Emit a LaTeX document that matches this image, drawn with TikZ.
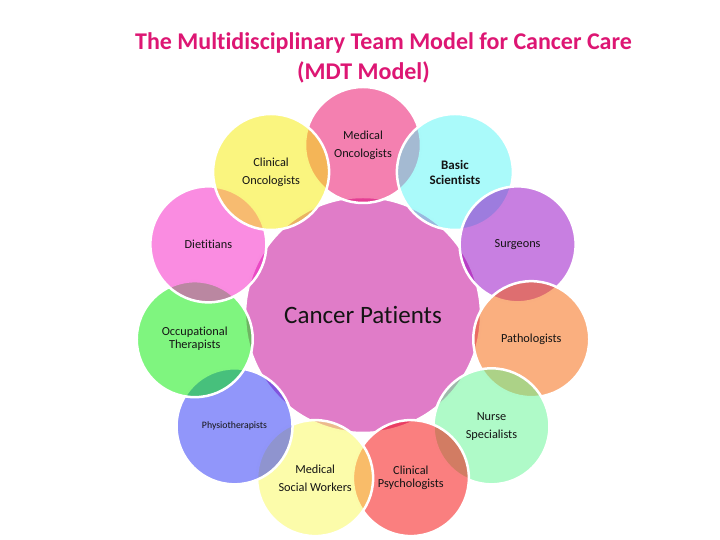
\documentclass[tikz,border=0pt]{standalone}
\usepackage{fontspec}
\setmainfont{Carlito}[Ligatures=NoCommon]
\usetikzlibrary{calc}
\definecolor{titlepink}{RGB}{221,22,115}
\definecolor{ctr}{RGB}{224,124,200}
\definecolor{cMO}{RGB}{233,1,97}
\definecolor{cBS}{RGB}{85,245,245}
\definecolor{cSU}{RGB}{145,0,195}
\definecolor{cPA}{RGB}{245,95,0}
\definecolor{cNS}{RGB}{95,245,145}
\definecolor{cCP}{RGB}{245,0,0}
\definecolor{cMS}{RGB}{249,249,85}
\definecolor{cPH}{RGB}{35,45,245}
\definecolor{cOT}{RGB}{0,235,0}
\definecolor{cDI}{RGB}{245,25,195}
\definecolor{cCO}{RGB}{245,235,0}
\definecolor{txt}{RGB}{20,20,20}
\begin{document}
\begin{tikzpicture}[x=1pt,y=1pt,
  hub/.style={circle, draw=white, line width=2.5pt, fill=ctr, minimum size=236pt,
    inner sep=0pt, text=txt, font=\fontsize{25}{29}\selectfont},
  petal/.style={circle, draw=white, line width=2.5pt, fill opacity=0.5,
    draw opacity=1, text opacity=1, text=txt, minimum size=116pt, inner sep=0pt,
    align=center, font=\fontsize{12.3}{18}\selectfont},
  tight/.style={font=\fontsize{12.3}{13}\selectfont},
  titletext/.style={text=titlepink, font=\fontsize{24}{28}\selectfont\bfseries, inner sep=0pt}
]
\useasboundingbox (0,0) rectangle (720,540);
\node[titletext] (t1) at (383.5,497) {The Multidisciplinary Team Model for Cancer Care};
\node[titletext] (t2) at (363.5,468) {(MDT Model)};
\coordinate (c) at (363,225);
\node[hub] (hub) at (c) {Cancer Patients};
\node[petal, fill=cMO] (mo) at ($(c)+(90:170)$) {Medical\\Oncologists};
\node[petal, fill=cBS, font=\fontsize{13}{15}\selectfont\bfseries] (bs) at ($(c)+(57.27:170)$) {Basic\\Scientists};
\node[petal, fill=cSU] (su) at ($(c)+(24.55:170)$) {Surgeons};
\node[petal, fill=cPA] (pa) at ($(c)+(-8.18:170)$) {Pathologists};
\node[petal, fill=cNS] (ns) at ($(c)+(-40.91:170)$) {Nurse\\Specialists};
\node[petal, fill=cCP, tight] (cp) at ($(c)+(-73.64:170)$) {Clinical\\Psychologists};
\node[petal, fill=cMS] (ms) at ($(c)+(-106.36:170)$) {Medical\\Social Workers};
\node[petal, fill=cPH, font=\fontsize{9.8}{12}\selectfont] (ph) at ($(c)+(-139.09:170)$) {Physiotherapists};
\node[petal, fill=cOT, tight] (ot) at ($(c)+(-171.82:170)$) {Occupational\\Therapists};
\node[petal, fill=cDI] (di) at ($(c)+(155.45:170)$) {Dietitians};
\node[petal, fill=cCO] (co) at ($(c)+(122.73:170)$) {Clinical\\Oncologists};
\end{tikzpicture}
\end{document}
